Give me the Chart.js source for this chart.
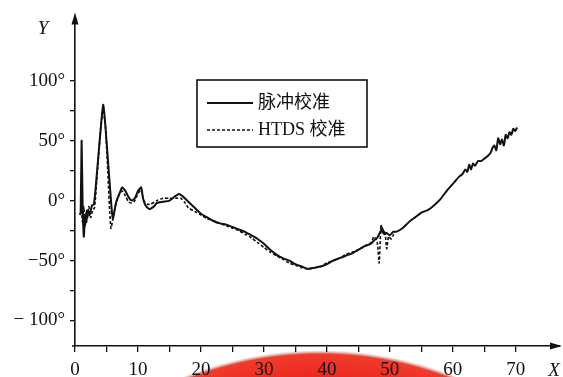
<!DOCTYPE html>
<html>
<head>
<meta charset="utf-8">
<script src="https://cdn.jsdelivr.net/npm/chart.js@4/dist/chart.umd.min.js"></script>
<style>
  html, body { margin: 0; padding: 0; background: #fff; overflow: hidden; }
  #wrap { width: 563px; height: 377px; position: relative; }
</style>
</head>
<body>
<div id="wrap"><canvas id="c" width="563" height="377"></canvas></div>
<script>
// Pulse calibration phase curve (x, degrees)
const pulseX = [0.8, 0.9, 1.05, 1.2, 1.4, 1.6, 1.8, 2.0, 2.3, 2.7, 3.0, 3.3, 4.0, 4.5, 5.0, 5.5, 6.0, 6.5, 7.0, 7.5,
  8.0, 8.5, 9.0, 9.5, 10.0, 10.5, 10.8, 11.2, 11.8, 12.5, 13.0, 14.0, 15.0, 16.0, 16.5, 17.0, 18.0, 19.0, 20.0, 21.0,
  22.0, 23.0, 24.0, 25.0, 26.0, 27.0, 28.0, 29.0, 30.0, 31.0, 32.0, 33.0, 34.0, 35.0, 36.0, 37.0, 38.0, 39.0, 40.0, 41.0,
  42.0, 43.0, 44.0, 45.0, 46.0, 47.0, 47.5, 48.0, 48.5, 48.8, 49.1, 49.5, 50.0, 50.5, 51.0, 52.0, 53.0, 54.0, 55.0, 56.0,
  57.0, 58.0, 59.0, 60.0, 60.5, 61.0, 61.5, 62.0, 62.3, 62.6, 62.9, 63.2, 63.5, 64.0, 64.5, 65.0, 65.5, 66.0, 66.3, 66.6,
  66.9, 67.2, 67.5, 67.8, 68.1, 68.4, 68.7, 69.0, 69.3, 69.6, 69.9, 70.2];
const pulseY = [-12, -10, 50, 0, -30, -12, -18, -8, -12, -4, -3, 12, 55, 80, 50, 15, -15, -2, 5, 11,
  8, 3, 0, 2, 8, 11, 2, -4, -7, -5, -2, -1, 0, 4, 5.5, 4, -1, -6, -11, -14,
  -17, -19, -20, -22, -24, -26, -29, -32, -36, -41, -45, -48, -50, -53, -55, -57, -56, -55, -53, -50,
  -48, -46, -44, -41, -38, -36, -33, -31, -26, -23, -28, -27, -29, -26, -26, -23, -18, -14, -10, -8,
  -4, 1, 8, 14, 17, 20, 22, 26, 24, 30, 26, 31, 29, 33, 33, 35, 37, 40, 44, 46,
  42, 52, 47, 51, 46, 55, 52, 57, 55, 60, 58, 61];

// HTDS calibration phase curve (x, degrees)
const htdsX = [0.8, 1.0, 1.2, 1.4, 1.6, 1.8, 2.0, 2.2, 2.5, 2.8, 3.1, 3.5, 4.0, 4.4, 4.8, 5.2, 5.7, 6.2, 6.8, 7.5,
  8.0, 8.5, 9.0, 9.5, 10.0, 10.5, 10.9, 11.5, 12.0, 13.0, 14.0, 15.0, 16.0, 16.8, 17.5, 18.0, 19.0, 20.0, 21.0, 22.0,
  23.0, 24.0, 25.0, 26.0, 27.0, 28.0, 29.0, 30.0, 31.0, 32.0, 33.0, 34.0, 35.0, 36.0, 37.0, 38.0, 39.0, 40.0, 41.0, 42.0,
  43.0, 44.0, 45.0, 46.0, 47.0, 47.5, 48.0, 48.3, 48.6, 48.9, 49.2, 49.5, 49.8, 50.2, 50.6];
const htdsY = [-12, -8, -18, -5, -22, -8, -15, -5, -14, -8, -6, 20, 55, 75, 65, 25, -23, -10, 3, 8,
  4, -1, -2, 0, 6, 9, 0, -3, -3, 0, 2, 2, 2, 2, -2, -6, -9, -12, -15, -17,
  -19, -21, -23, -25, -28, -31, -35, -39, -43, -46, -49, -52, -54, -56, -57, -56, -55, -52, -50, -48,
  -45, -43, -41, -38, -35, -30, -35, -52, -20, -28, -25, -40, -30, -32, -28];

const seriesNames = ['脉冲校准', 'HTDS 校准'];

const xTicks = [0, 5, 10, 15, 20, 25, 30, 35, 40, 45, 50, 55, 60, 65, 70];
const xTickLabels = ['0', '', '10', '', '20', '', '30', '', '40', '', '50', '', '60', '', '70'];
const yTicks = [-100, -75, -50, -25, 0, 25, 50, 75, 100];
const yTickLabels = ['\u2212 100°', '', '\u221250°', '', '0°', '', '50°', '', '100°'];
const axisNames = { x: 'X', y: 'Y' };

const INK = '#111';
const tickFont = { family: 'Liberation Serif', size: 19 };

const toPoints = (xs, ys) => xs.map((x, i) => ({ x, y: ys[i] }));

// Red stamp edge along the bottom of the sheet
const stampPlugin = {
  id: 'stamp',
  beforeDraw(chart) {
    const ctx = chart.ctx;
    ctx.save();
    const g = ctx.createRadialGradient(320, 717, 340, 320, 717, 367);
    g.addColorStop(0, 'rgba(236,40,30,1)');
    g.addColorStop(0.85, 'rgba(240,60,45,1)');
    g.addColorStop(1, 'rgba(250,140,120,0)');
    ctx.fillStyle = g;
    ctx.beginPath();
    ctx.arc(320, 717, 367, 0, Math.PI * 2);
    ctx.fill();
    ctx.restore();
  }
};

// Axis arrows, axis names and the boxed legend
const decorPlugin = {
  id: 'decor',
  afterDraw(chart) {
    const { ctx, chartArea: a } = chart;
    ctx.save();
    ctx.fillStyle = INK;
    ctx.strokeStyle = INK;
    ctx.lineWidth = 1.6;

    // x axis extension and arrow
    ctx.beginPath();
    ctx.moveTo(a.left - 3, a.bottom);
    ctx.lineTo(a.left, a.bottom);
    ctx.moveTo(a.right, a.bottom);
    ctx.lineTo(a.right + 2, a.bottom);
    ctx.stroke();
    ctx.beginPath();
    ctx.moveTo(a.right + 4, a.bottom);
    ctx.lineTo(a.right - 8, a.bottom - 3.5);
    ctx.lineTo(a.right - 8, a.bottom + 3.5);
    ctx.closePath();
    ctx.fill();

    // y axis arrow
    ctx.beginPath();
    ctx.moveTo(a.left, a.top - 4);
    ctx.lineTo(a.left - 3.5, a.top + 8);
    ctx.lineTo(a.left + 3.5, a.top + 8);
    ctx.closePath();
    ctx.fill();

    // axis names
    ctx.font = 'italic 19px "Liberation Serif"';
    ctx.textAlign = 'center';
    ctx.textBaseline = 'middle';
    ctx.fillText(axisNames.y, 43, 29);
    ctx.fillText(axisNames.x, 554, 371);

    // legend
    const box = { x: 197, y: 80, w: 170, h: 67 };
    ctx.fillStyle = '#fff';
    ctx.fillRect(box.x, box.y, box.w, box.h);
    ctx.lineWidth = 1.6;
    ctx.strokeRect(box.x, box.y, box.w, box.h);
    const rows = [103, 130];
    chart.data.datasets.forEach((ds, i) => {
      const y = rows[i];
      ctx.beginPath();
      ctx.setLineDash(ds.borderDash || []);
      ctx.lineWidth = ds.borderWidth;
      ctx.moveTo(207, y);
      ctx.lineTo(253, y);
      ctx.stroke();
      ctx.setLineDash([]);
      ctx.fillStyle = INK;
      ctx.font = '18px "Liberation Serif", "Noto Sans CJK SC"';
      ctx.textAlign = 'left';
      ctx.textBaseline = 'middle';
      ctx.fillText(ds.label, 258, y);
    });
    ctx.restore();
  }
};

new Chart(document.getElementById('c'), {
  type: 'line',
  data: {
    datasets: [
      {
        label: seriesNames[0],
        data: toPoints(pulseX, pulseY),
        borderColor: INK,
        borderWidth: 2,
        pointRadius: 0,
        tension: 0.2,
        fill: false
      },
      {
        label: seriesNames[1],
        data: toPoints(htdsX, htdsY),
        borderColor: INK,
        borderWidth: 1.6,
        borderDash: [3, 2],
        pointRadius: 0,
        tension: 0.2,
        fill: false
      }
    ]
  },
  options: {
    responsive: false,
    devicePixelRatio: 1,
    animation: false,
    layout: { padding: { top: 15, right: 5, left: 0, bottom: 0 } },
    plugins: { legend: { display: false }, tooltip: { enabled: false } },
    scales: {
      x: {
        type: 'linear',
        min: 0,
        max: 76.7,
        afterBuildTicks: s => { s.ticks = xTicks.map(v => ({ value: v })); },
        afterFit: s => { s.height = 31; },
        ticks: {
          autoSkip: false,
          maxRotation: 0,
          padding: 7,
          color: INK,
          font: tickFont,
          callback: (v, i) => xTickLabels[i]
        },
        grid: { drawOnChartArea: false, drawTicks: true, tickLength: 6, color: INK, lineWidth: 1.3 },
        border: { color: INK, width: 1.6 }
      },
      y: {
        type: 'linear',
        min: -121.3,
        max: 153.7,
        afterBuildTicks: s => { s.ticks = yTicks.map(v => ({ value: v })); },
        afterFit: s => { s.width = 75; },
        ticks: {
          autoSkip: false,
          padding: 5,
          color: INK,
          font: tickFont,
          callback: (v, i) => yTickLabels[i]
        },
        grid: { drawOnChartArea: false, drawTicks: true, tickLength: 5, color: INK, lineWidth: 1.3 },
        border: { color: INK, width: 1.6 }
      }
    }
  },
  plugins: [stampPlugin, decorPlugin]
});
</script>
</body>
</html>
